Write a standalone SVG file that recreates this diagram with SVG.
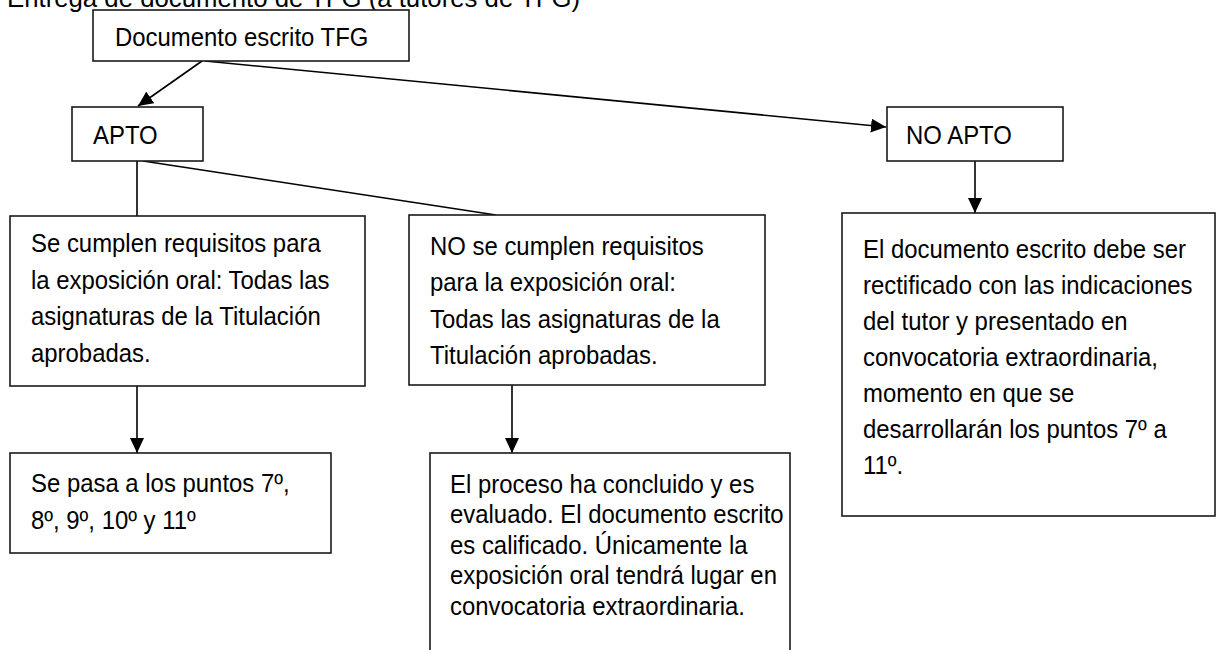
<svg xmlns="http://www.w3.org/2000/svg" width="1220" height="650" viewBox="0 0 1220 650">
<style>
  .box { fill: #ffffff; stroke: #1a1a1a; stroke-width: 1.6; }
  .t { font-family: "Liberation Sans", Arial, sans-serif; font-size: 26px; fill: #000000; }
  .ln { fill: none; stroke: #000000; stroke-width: 1.6; }
</style>
<defs>
  <marker id="ah" markerUnits="userSpaceOnUse" markerWidth="15" markerHeight="14" refX="15" refY="7" orient="auto">
    <path d="M0,0 L15,7 L0,14 Z" fill="#000000"/>
  </marker>
</defs>
<rect width="1220" height="650" fill="#ffffff"/>

<g id="title">
  <text class="t" x="7" y="7" textLength="573" lengthAdjust="spacingAndGlyphs">Entrega de documento de TFG (a tutores de TFG)</text>
</g>

<g id="connectors">
  <line class="ln" x1="202" y1="61" x2="138" y2="106" marker-end="url(#ah)"/>
  <line class="ln" x1="205" y1="61" x2="886" y2="127" marker-end="url(#ah)"/>
  <line class="ln" x1="137" y1="161" x2="137" y2="216"/>
  <line class="ln" x1="143" y1="161" x2="496" y2="215"/>
  <line class="ln" x1="975" y1="161" x2="975" y2="213" marker-end="url(#ah)"/>
  <line class="ln" x1="137" y1="386" x2="137" y2="453" marker-end="url(#ah)"/>
  <line class="ln" x1="512" y1="385" x2="512" y2="453" marker-end="url(#ah)"/>
</g>

<g id="doc">
  <rect class="box" x="93" y="10" width="316" height="51"/>
  <text class="t" transform="translate(115 0) scale(0.92 1)" x="0" y="46">Documento escrito TFG</text>
</g>

<g id="apto">
  <rect class="box" x="72" y="107" width="131" height="54"/>
  <text class="t" transform="translate(93 0) scale(0.92 1)" x="0" y="144.5">APTO</text>
</g>

<g id="noapto">
  <rect class="box" x="887" y="107" width="176" height="54"/>
  <text class="t" transform="translate(906 0) scale(0.92 1)" x="0" y="144.5">NO APTO</text>
</g>

<g id="cumplen">
  <rect class="box" x="10" y="216" width="355" height="170"/>
  <text class="t" transform="translate(31 0) scale(0.92 1)">
    <tspan x="0" y="252.5">Se cumplen requisitos para</tspan>
    <tspan x="0" y="289">la exposición oral: Todas las</tspan>
    <tspan x="0" y="325.5">asignaturas de la Titulación</tspan>
    <tspan x="0" y="362">aprobadas.</tspan>
  </text>
</g>

<g id="nocumplen">
  <rect class="box" x="409" y="215" width="356" height="170"/>
  <text class="t" transform="translate(430 0) scale(0.92 1)">
    <tspan x="0" y="255">NO se cumplen requisitos</tspan>
    <tspan x="0" y="291.5">para la exposición oral:</tspan>
    <tspan x="0" y="328">Todas las asignaturas de la</tspan>
    <tspan x="0" y="364.5">Titulación aprobadas.</tspan>
  </text>
</g>

<g id="rectificado">
  <rect class="box" x="842" y="213" width="373" height="303"/>
  <text class="t" transform="translate(863 0) scale(0.92 1)">
    <tspan x="0" y="258">El documento escrito debe ser</tspan>
    <tspan x="0" y="294">rectificado con las indicaciones</tspan>
    <tspan x="0" y="330">del tutor y presentado en</tspan>
    <tspan x="0" y="366">convocatoria extraordinaria,</tspan>
    <tspan x="0" y="402">momento en que se</tspan>
    <tspan x="0" y="438">desarrollarán los puntos 7º a</tspan>
    <tspan x="0" y="474">11º.</tspan>
  </text>
</g>

<g id="pasa">
  <rect class="box" x="10" y="453" width="321" height="100"/>
  <text class="t" transform="translate(31 0) scale(0.92 1)">
    <tspan x="0" y="492">Se pasa a los puntos 7º,</tspan>
    <tspan x="0" y="529">8º, 9º, 10º y 11º</tspan>
  </text>
</g>

<g id="concluido">
  <rect class="box" x="430" y="453" width="360" height="210"/>
  <text class="t" transform="translate(450 0) scale(0.92 1)">
    <tspan x="0" y="493">El proceso ha concluido y es</tspan>
    <tspan x="0" y="523.5">evaluado. El documento escrito</tspan>
    <tspan x="0" y="554">es calificado. Únicamente la</tspan>
    <tspan x="0" y="584.5">exposición oral tendrá lugar en</tspan>
    <tspan x="0" y="615">convocatoria extraordinaria.</tspan>
  </text>
</g>
</svg>
